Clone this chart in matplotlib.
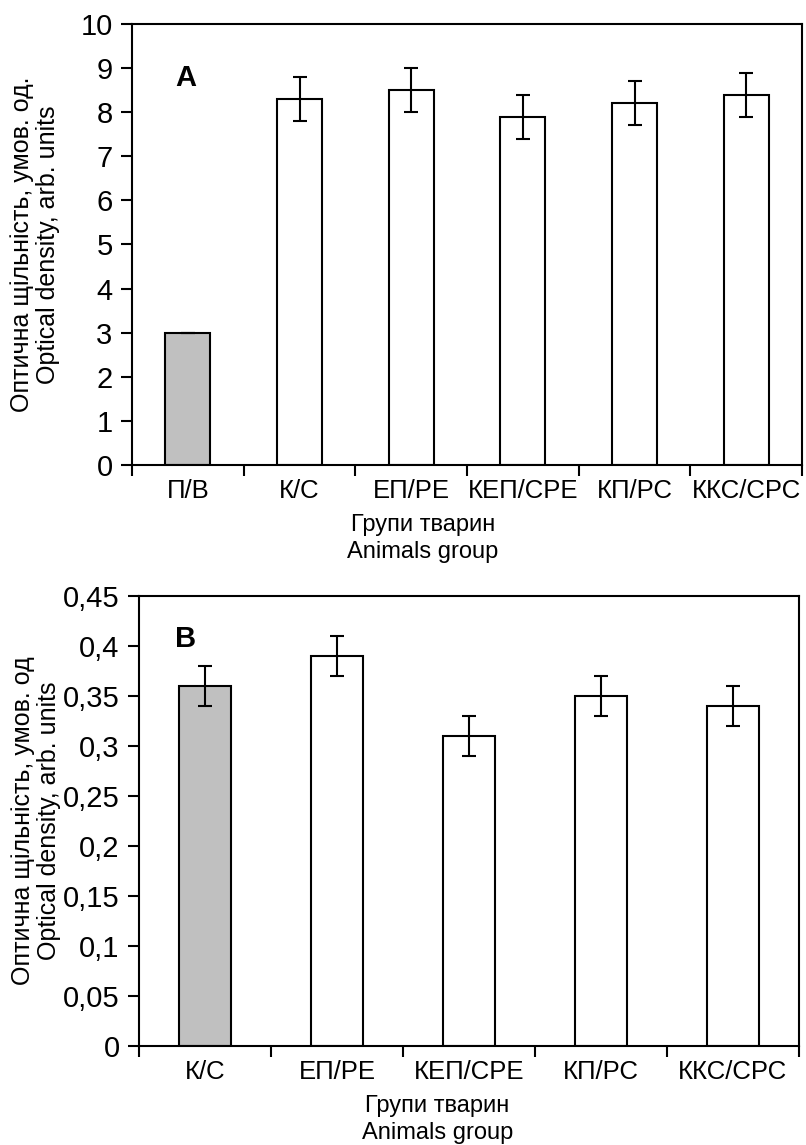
import numpy as np
import matplotlib
matplotlib.use('Agg')
import matplotlib.pyplot as plt

plt.rcParams['font.family'] = ['Liberation Sans', 'DejaVu Sans']

groups_a = ['П/В', 'К/С', 'ЕП/РЕ', 'КЕП/СРЕ', 'КП/РС', 'ККС/СРС']
values_a = [3.0, 8.3, 8.5, 7.9, 8.2, 8.4]
errors_a = [0.0, 0.5, 0.5, 0.5, 0.5, 0.5]

groups_b = ['К/С', 'ЕП/РЕ', 'КЕП/СРЕ', 'КП/РС', 'ККС/СРС']
values_b = [0.36, 0.39, 0.31, 0.35, 0.34]
errors_b = [0.02, 0.02, 0.02, 0.02, 0.02]

W, H = 806, 1145
fig = plt.figure(figsize=(W / 100, H / 100), dpi=100)

ylab = 'Оптична щільність, умов. од.\nOptical density, arb. units'
ylab_b = 'Оптична щільність, умов. од\nOptical density, arb. units'
xlab = 'Групи тварин\nAnimals group'


def panel(rect, groups, values, errors, ymax, ystep, fmt, letter, letter_xy,
          ylabel, ylab_x, xlab_xy):
    l, t, r, b = rect
    ax = fig.add_axes([l / W, 1 - b / H, (r - l) / W, (b - t) / H])
    x = np.arange(len(groups))
    colors = ['#c0c0c0'] + ['white'] * (len(groups) - 1)
    ax.bar(x, values, width=0.4, color=colors, edgecolor='black', linewidth=1.5,
           yerr=errors, capsize=5, error_kw=dict(elinewidth=1.5, capthick=1.5, ecolor='black'))
    ax.set_xlim(-0.5, len(groups) - 0.5)
    ax.set_ylim(0, ymax)
    yt = np.arange(0, ymax + ystep / 2, ystep)
    ax.set_yticks(yt)
    ax.set_yticklabels([fmt(v) for v in yt], fontsize=21)
    # category boundary ticks, labels centred under bars
    ax.set_xticks(np.arange(len(groups) + 1) - 0.5)
    ax.set_xticklabels([])
    ax.set_xticks(x, minor=True)
    ax.set_xticklabels(groups, minor=True, fontsize=18.5)
    ax.tick_params(axis='x', which='minor', length=0, pad=10)
    ax.tick_params(axis='x', which='major', direction='out', length=8, width=1.5)
    ax.tick_params(axis='y', direction='out', length=8, width=1.5, pad=6)
    for s in ax.spines.values():
        s.set_linewidth(1.5)
    ax.set_ylabel(ylabel, fontsize=18, linespacing=1.1)
    ax.yaxis.set_label_coords(ylab_x, 0.5)
    ax.set_xlabel(xlab, fontsize=17, linespacing=1.3)
    ax.xaxis.set_label_coords(*xlab_xy)
    ax.text(letter_xy[0], letter_xy[1], letter, transform=ax.transAxes, fontsize=21,
            fontweight='bold', va='top')
    return ax


panel((132, 24, 802, 465), groups_a, values_a, errors_a, 10, 1,
      lambda v: '%d' % v, 'A', (0.064, 0.91), ylab, -0.108, (0.434, -0.112))
panel((139, 596, 799, 1046), groups_b, values_b, errors_b, 0.45, 0.05,
      lambda v: '0' if v == 0 else ('%g' % round(v, 2)).replace('.', ','),
      'B', (0.055, 0.935), ylab_b, -0.118, (0.452, -0.108))

fig.savefig('out.png', dpi=100)
